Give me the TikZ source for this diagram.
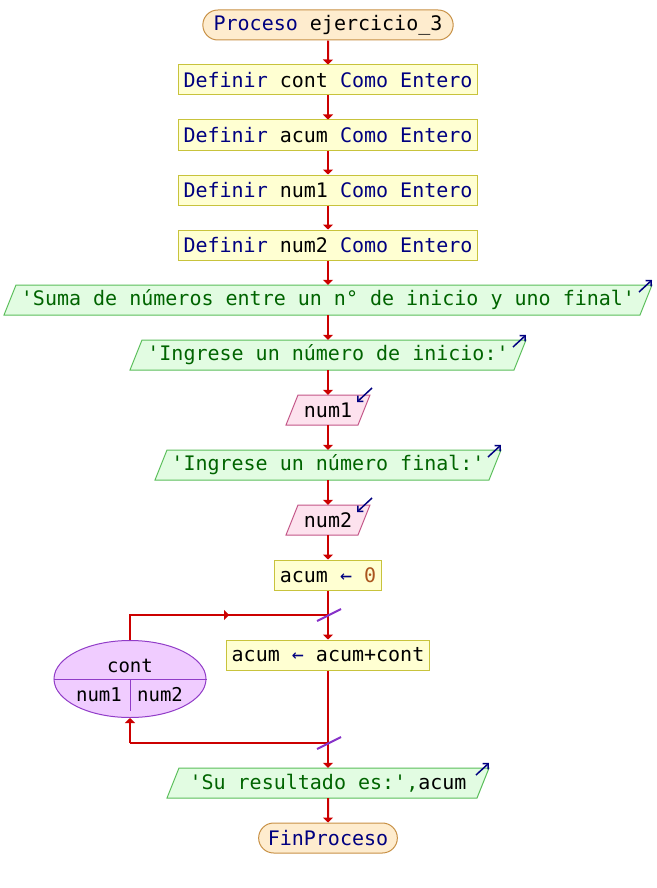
\documentclass[tikz,border=0pt]{standalone}
\usepackage{fontspec}
\setmonofont{DejaVu Sans Mono}
\setsansfont{DejaVu Sans}
\usetikzlibrary{arrows.meta,shapes.geometric,shapes.misc,calc}

\definecolor{kw}{RGB}{0,0,128}
\definecolor{strc}{RGB}{0,100,0}
\definecolor{numc}{RGB}{170,85,30}
\definecolor{flowred}{RGB}{204,0,0}
\definecolor{termfill}{RGB}{254,236,206}
\definecolor{termdraw}{RGB}{200,145,70}
\definecolor{deffill}{RGB}{255,255,210}
\definecolor{defdraw}{RGB}{200,195,60}
\definecolor{outfill}{RGB}{226,252,226}
\definecolor{outdraw}{RGB}{90,190,90}
\definecolor{infill}{RGB}{253,226,238}
\definecolor{indraw}{RGB}{195,85,135}
\definecolor{loopfill}{RGB}{240,204,255}
\definecolor{loopdraw}{RGB}{145,60,200}
\definecolor{markc}{RGB}{135,50,200}

\tikzset{
  txt/.style={font=\fontsize{20pt}{24pt}\selectfont\ttfamily, text=black},
  terminal/.style={txt, rounded rectangle, draw=termdraw, fill=termfill, line width=1pt,
    minimum height=30pt, inner xsep=7pt, inner ysep=0pt},
  procbox/.style={txt, rectangle, draw=defdraw, fill=deffill, line width=1pt,
    minimum height=30pt, inner xsep=5pt, inner ysep=0pt},
  iotext/.style={txt, rectangle, inner sep=0pt, minimum height=30pt},
  outshape/.style={draw=outdraw, fill=outfill, line width=1pt},
  inshape/.style={draw=indraw, fill=infill, line width=1pt},
  flow/.style={draw=flowred, line width=2pt, -{Triangle[length=5pt,width=10pt]}},
  flowline/.style={draw=flowred, line width=2pt},
  iomark/.style={draw=kw, line width=1.5pt, -{Straight Barb[length=4pt,width=8pt]}},
  slash/.style={draw=markc, line width=2pt},
  loopnode/.style={ellipse, draw=loopdraw, fill=loopfill, line width=1pt,
    minimum width=152pt, minimum height=77pt, inner sep=0pt},
  looptxt/.style={font=\fontsize{19pt}{23pt}\selectfont\ttfamily, text=black, inner sep=0pt}
}

% parallelogram for output (arrow leaving top right corner)
% #1 name, #2 x, #3 y, #4 half width of body, #5 text
\newcommand\outbox[5]{%
  \path[outshape] (#2-#4-6,#3+15) -- (#2+#4-6,#3+15) -- (#2+#4+6,#3-15) -- (#2-#4+6,#3-15) -- cycle;
  \node[iotext, minimum width=2*#4] (#1) at (#2,#3) {#5};
  \coordinate (#1-a) at (#2+#4-7,#3-8);
  \coordinate (#1-b) at (#2+#4+6,#3-20);
  \draw[iomark] (#1-a) -- (#1-b);
}
% parallelogram for input (arrow entering top right corner)
\newcommand\inbox[5]{%
  \path[inshape] (#2-#4-6,#3+15) -- (#2+#4-6,#3+15) -- (#2+#4+6,#3-15) -- (#2-#4+6,#3-15) -- cycle;
  \node[iotext, minimum width=2*#4] (#1) at (#2,#3) {#5};
  \coordinate (#1-a) at (#2+#4+8,#3-22);
  \coordinate (#1-b) at (#2+#4-7,#3-8);
  \draw[iomark] (#1-a) -- (#1-b);
}

\begin{document}
\begin{tikzpicture}[x=1pt,y=-1pt]
\useasboundingbox (0,0) rectangle (656,888);

\node[terminal] (start) at (328,25) {\textcolor{kw}{Proceso} ejercicio\_3};
\node[procbox] (d1) at (328,80) {\textcolor{kw}{Definir} cont \textcolor{kw}{Como Entero}};
\node[procbox] (d2) at (328,135) {\textcolor{kw}{Definir} acum \textcolor{kw}{Como Entero}};
\node[procbox] (d3) at (328,190) {\textcolor{kw}{Definir} num1 \textcolor{kw}{Como Entero}};
\node[procbox] (d4) at (328,245) {\textcolor{kw}{Definir} num2 \textcolor{kw}{Como Entero}};

\outbox{o1}{328}{300}{318}{\textcolor{strc}{'Suma de números entre un n° de inicio y uno final'}}
\outbox{o2}{328}{355}{192}{\textcolor{strc}{'Ingrese un número de inicio:'}}
\inbox{i1}{328}{410}{36}{num1}
\outbox{o3}{328}{465}{167}{\textcolor{strc}{'Ingrese un número final:'}}
\inbox{i2}{328}{520}{36}{num2}

\node[procbox] (a0) at (328,575) {acum \textcolor{kw}{←} \textcolor{numc}{0}};
\node[procbox] (a1) at (328,655) {acum \textcolor{kw}{←} acum+cont};

\node[loopnode] (lp) at (130,679) {};
\draw[draw=loopdraw, line width=1pt] (lp.west) -- (lp.east);
\coordinate (lpdiv) at (130,711);
\draw[draw=loopdraw, line width=1pt] (lp.center) -- (lpdiv);
\node[looptxt] (lpvar) at (130,666) {cont};
\node[looptxt] (lpfrom) at (99,695) {num1};
\node[looptxt] (lpto) at (160,695) {num2};

\outbox{o4}{328}{783}{155}{\textcolor{strc}{'Su resultado es:',}acum}
\node[terminal] (fin) at (328,838) {\textcolor{kw}{FinProceso}};

% main flow
\draw[flow] (start) -- (d1);
\draw[flow] (d1) -- (d2);
\draw[flow] (d2) -- (d3);
\draw[flow] (d3) -- (d4);
\draw[flow] (d4) -- (o1);
\draw[flow] (o1) -- (o2);
\draw[flow] (o2) -- (i1);
\draw[flow] (i1) -- (o3);
\draw[flow] (o3) -- (i2);
\draw[flow] (i2) -- (a0);
\draw[flow] (a0) -- (a1);

% loop connectors
\coordinate (jtop) at (328,615);
\coordinate (ltop) at (130,615);
\coordinate (hmid) at (229,615);
\coordinate (jbot) at (328,743);
\coordinate (lbot) at (130,743);
\draw[flowline] (lp.north) -- (ltop) -- (jtop);
\draw[flow] (ltop) -- (hmid);
\draw[flowline] (a1.south) -- (jbot) -- (lbot);
\draw[flow] (lbot) -- (lp.south);
\draw[flow] (jbot) -- (o4.north);
\draw[flow] (o4) -- (fin);

% loop markers
\draw[slash] ($(jtop)+(-11,6)$) -- ($(jtop)+(13,-6)$);
\draw[slash] ($(jbot)+(-11,6)$) -- ($(jbot)+(13,-6)$);
\end{tikzpicture}
\end{document}
